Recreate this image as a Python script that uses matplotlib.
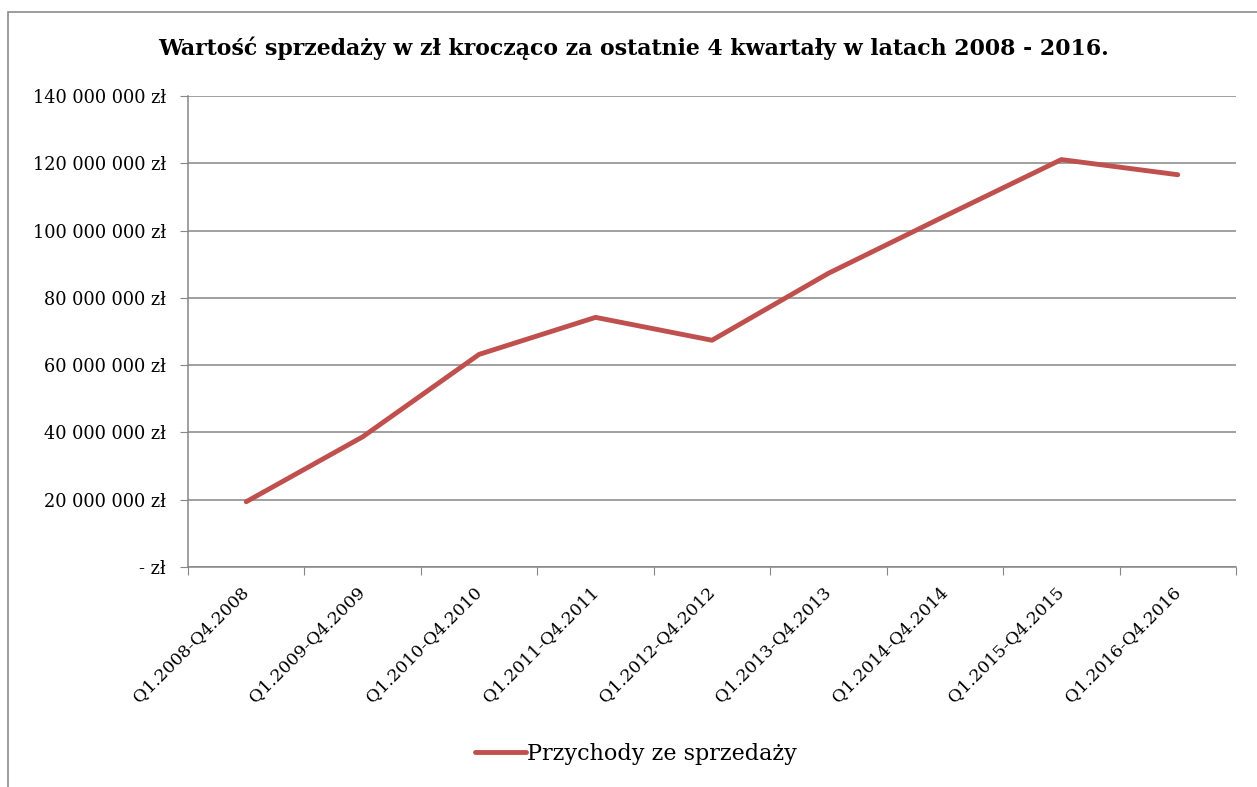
import numpy as np
import matplotlib.pyplot as plt
import matplotlib.transforms as mtransforms
from matplotlib.ticker import FuncFormatter, FixedLocator
from matplotlib.patches import Rectangle

# data
periods = ['Q1.2008-Q4.2008', 'Q1.2009-Q4.2009', 'Q1.2010-Q4.2010',
           'Q1.2011-Q4.2011', 'Q1.2012-Q4.2012', 'Q1.2013-Q4.2013',
           'Q1.2014-Q4.2014', 'Q1.2015-Q4.2015', 'Q1.2016-Q4.2016']
sales = [19.4e6, 38.7e6, 63.2e6, 74.2e6, 67.4e6, 87.3e6, 104.3e6, 121.1e6, 116.6e6]

plt.rcParams['font.family'] = ['DejaVu Serif']

fig = plt.figure(figsize=(12.57, 7.87), dpi=100)
fig.patches.append(Rectangle((8 / 1257, -0.1), 1.2, 1 - 12 / 787 + 0.1,
                             transform=fig.transFigure, fill=False,
                             edgecolor='#8c8c8c', linewidth=1.2))

ax = fig.add_axes([188 / 1257, 1 - 567 / 787, (1236 - 188) / 1257, (567 - 96) / 787])
x = np.arange(len(periods))
ax.plot(x, sales, color='#C0504D', linewidth=3.5, solid_capstyle='round',
        label='Przychody ze sprzedaży')

ax.set_xlim(-0.5, len(periods) - 0.5)
ax.set_ylim(0, 140e6)
ax.set_yticks(np.arange(0, 140e6 + 1, 20e6))

def zl(v, pos):
    if v == 0:
        return '- zł'
    return '{:,.0f} zł'.format(v).replace(',', ' ')

ax.yaxis.set_major_formatter(FuncFormatter(zl))
ax.grid(axis='y', color='#868686', linewidth=1.1)
ax.set_axisbelow(True)

# ticks on category boundaries, labels at centres
ax.xaxis.set_major_locator(FixedLocator(np.arange(-0.5, len(periods), 1.0)))
ax.xaxis.set_minor_locator(FixedLocator(x))
ax.set_xticklabels([])
ax.set_xticks(x, periods, minor=True, rotation=45, ha='right', va='top',
              rotation_mode='anchor', fontsize=12.5)
ax.tick_params(axis='x', which='major', length=6, color='#868686')
ax.tick_params(axis='x', which='minor', length=0, pad=10)
ax.tick_params(axis='y', length=6, color='#868686', labelsize=12.8, pad=10)

shift = mtransforms.ScaledTranslation(-6 / 100, -3 / 100, fig.dpi_scale_trans)
for lab in ax.get_xticklabels(minor=True):
    lab.set_transform(lab.get_transform() + shift)

for s in ['top', 'right']:
    ax.spines[s].set_visible(False)
for s in ['left', 'bottom']:
    ax.spines[s].set_color('#868686')
    ax.spines[s].set_linewidth(1.1)

fig.text(634 / 1257, 1 - 48 / 787,
         'Wartość sprzedaży w zł krocząco za ostatnie 4 kwartały w latach 2008 - 2016.',
         ha='center', va='center', fontsize=15.8, fontweight='bold')

fig.legend(loc='center', bbox_to_anchor=(636 / 1257, 1 - 754 / 787), frameon=False,
           fontsize=16, handlelength=2.3, handletextpad=0.05)

fig.savefig('out.png', dpi=100)
